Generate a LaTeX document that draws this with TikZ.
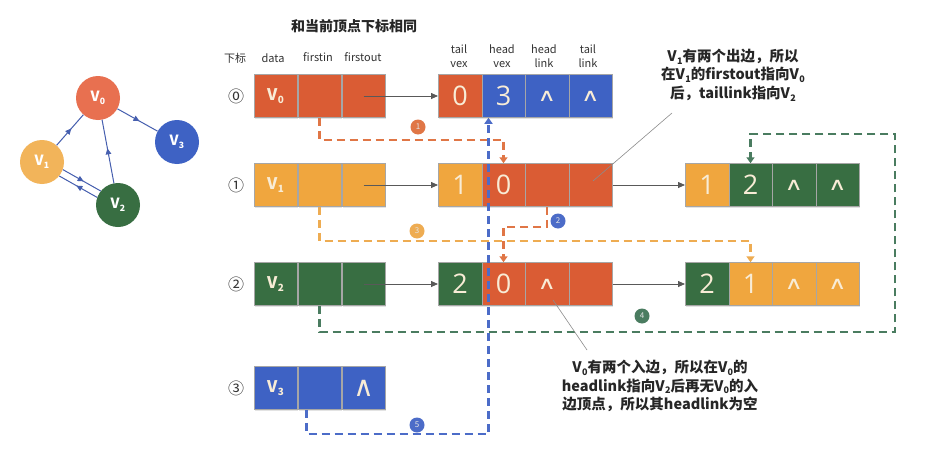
\documentclass[tikz,border=0pt]{standalone}
\usepackage{fontspec}
\usepackage{graphicx}
\setmainfont{Noto Sans CJK SC}
\newfontfamily\numfont{Open Sans}
\newfontfamily\symfont{DejaVu Sans}
\usetikzlibrary{arrows.meta,shadows,decorations.markings}

\definecolor{cred}{RGB}{218,92,52}
\definecolor{camb}{RGB}{240,166,62}
\definecolor{cgrn}{RGB}{56,110,66}
\definecolor{cblu}{RGB}{62,98,196}
\definecolor{ctxt}{RGB}{248,236,214}
\definecolor{lred}{RGB}{224,118,70}
\definecolor{lamb}{RGB}{238,172,82}
\definecolor{lgrn}{RGB}{74,124,96}
\definecolor{lblu}{RGB}{76,108,200}
\definecolor{edgeblue}{RGB}{70,95,175}
\definecolor{gred}{RGB}{232,112,80}
\definecolor{gamb}{RGB}{242,180,90}

\newcommand{\Vs}[1]{V\kern0.02em\raisebox{-0.35ex}{\scalebox{0.62}{#1}}}
\newcommand{\vtxt}[1]{{\bfseries\fontsize{16}{16}\selectfont\Vs{#1}}}
\newcommand{\numtxt}[1]{{\numfont\fontsize{27}{27}\selectfont #1}}
\newcommand{\nul}{{\symfont\fontsize{22}{22}\selectfont\scalebox{1.15}[0.8]{∧}}}

\begin{document}
\begin{tikzpicture}[x=1pt,y=-1pt,
  cell/.style={rectangle, minimum width=43.5pt, minimum height=43pt, inner sep=0pt,
     draw=black!35, line width=0.5pt, text=ctxt,
     drop shadow={opacity=0.22, shadow xshift=1.2pt, shadow yshift=-1.5pt}},
  gv/.style={circle, minimum size=44pt, inner sep=0pt, text=white,
     font=\bfseries\fontsize{14}{14}\selectfont},
  garr/.style={draw=edgeblue, line width=1pt,
     postaction={decorate, decoration={markings, mark=at position 0.55 with {\arrow{Triangle[length=6pt,width=5.5pt]}}}}},
  hdr/.style={font=\fontsize{11}{14.5}\selectfont, align=center, text=black!80},
  idx/.style={font=\fontsize{16}{16}\selectfont, text=black!80},
  solidarr/.style={draw=black!65, line width=0.8pt, -{Triangle[length=7pt,width=6pt]}},
  dsh/.style={line width=2.4pt, dash pattern=on 8pt off 5pt, -{Triangle[length=6pt,width=8pt]}},
  badge/.style={circle, minimum size=15pt, inner sep=0pt, text=white!90!black, font=\fontsize{8}{8}\selectfont},
  anno/.style={align=center, font=\bfseries\fontsize{14.5}{18.5}\selectfont, text=black!85},
  leader/.style={draw=black!45, line width=0.6pt}
]
\useasboundingbox (0,0) rectangle (935,455);
\fill[white] (0,0) rectangle (935,455);

% ---------- left graph ----------
\node[gv, fill=gred] (G0) at (98,98) {\Vs{0}};
\node[gv, fill=gamb] (G1) at (42,162) {\Vs{1}};
\node[gv, fill=cgrn] (G2) at (118,205) {\Vs{2}};
\node[gv, fill=cblu] (G3) at (177,142) {\Vs{3}};
\draw[garr] (G1) -- (G0);
\draw[garr] (G0) -- (G3);
\draw[garr] (G2) -- (G0);
\draw[garr] (G1.-20) -- (G2.141);
\draw[garr] (G2.160) -- (G1.-39);

% ---------- headers ----------
\node[font=\bfseries\fontsize{14}{14}\selectfont, text=black!85] (title) at (354,26) {和当前顶点下标相同};
\node[hdr] (h0) at (235,58) {下标};
\node[hdr] (h1) at (273,58) {data};
\node[hdr] (h2) at (318,57) {firstin};
\node[hdr] (h3) at (363,57) {firstout};
\node[hdr] (h4) at (459,56) {tail\\vex};
\node[hdr] (h5) at (502,56) {head\\vex};
\node[hdr] (h6) at (544,56) {head\\link};
\node[hdr] (h7) at (588,56) {tail\\link};

% ---------- index labels ----------
\node[idx] (i0) at (236,96) {⓪};
\node[idx] (i1) at (236,185) {①};
\node[idx] (i2) at (236,284) {②};
\node[idx] (i3) at (236,388) {③};

% ---------- row 0 ----------
\node[cell,fill=cred] (v0d) at (275.5,96) {\vtxt{0}};
\node[cell,fill=cred] (v0i) at (319.5,96) {};
\node[cell,fill=cred] (v0o) at (363.5,96) {};
\node[cell,fill=cred] (e0t) at (460,96) {\numtxt{0}};
\node[cell,fill=cblu] (e0h) at (503.5,96) {\numtxt{3}};
\node[cell,fill=cblu] (e0hl) at (547,96) {\nul};
\node[cell,fill=cblu] (e0tl) at (590.5,96) {\nul};

% ---------- row 1 ----------
\node[cell,fill=camb] (v1d) at (275.5,185) {\vtxt{1}};
\node[cell,fill=camb] (v1i) at (319.5,185) {};
\node[cell,fill=camb] (v1o) at (363.5,185) {};
\node[cell,fill=camb] (e1t) at (460,185) {\numtxt{1}};
\node[cell,fill=cred] (e1h) at (503.5,185) {\numtxt{0}};
\node[cell,fill=cred] (e1hl) at (547,185) {};
\node[cell,fill=cred] (e1tl) at (590.5,185) {};
\node[cell,fill=camb] (r1t) at (707,185) {\numtxt{1}};
\node[cell,fill=cgrn] (r1h) at (750.5,185) {\numtxt{2}};
\node[cell,fill=cgrn] (r1hl) at (794,185) {\nul};
\node[cell,fill=cgrn] (r1tl) at (837.5,185) {\nul};

% ---------- row 2 ----------
\node[cell,fill=cgrn] (v2d) at (275.5,284) {\vtxt{2}};
\node[cell,fill=cgrn] (v2i) at (319.5,284) {};
\node[cell,fill=cgrn] (v2o) at (363.5,284) {};
\node[cell,fill=cgrn] (e2t) at (460,284) {\numtxt{2}};
\node[cell,fill=cred] (e2h) at (503.5,284) {\numtxt{0}};
\node[cell,fill=cred] (e2hl) at (547,284) {\nul};
\node[cell,fill=cred] (e2tl) at (590.5,284) {};
\node[cell,fill=cgrn] (r2t) at (707,284) {\numtxt{2}};
\node[cell,fill=camb] (r2h) at (750.5,284) {\numtxt{1}};
\node[cell,fill=camb] (r2hl) at (794,284) {\nul};
\node[cell,fill=camb] (r2tl) at (837.5,284) {\nul};

% ---------- row 3 ----------
\node[cell,fill=cblu] (v3d) at (275.5,388) {\vtxt{3}};
\node[cell,fill=cblu] (v3i) at (319.5,388) {};
\node[cell,fill=cblu] (v3o) at (363.5,388) {{\symfont\fontsize{28}{28}\selectfont ∧}};

% ---------- solid arrows ----------
\draw[solidarr] (v0o.center) -- (e0t.west);
\draw[solidarr] (v1o.center) -- (e1t.west);
\draw[solidarr] (v2o.center) -- (e2t.west);
\draw[solidarr] (e1tl.east) -- (r1t.west);
\draw[solidarr] (e2tl.east) -- (r2t.west);

% ---------- dashed connectors ----------
\coordinate (c4) at (895,134);
\draw[dsh, draw=lred] (v0i.south) -- ++(0,22) -| (e1h.north);
\draw[dsh, draw=lred] (e1hl.south) -- ++(0,20) -| (e2h.north);
\draw[dsh, draw=lamb] (v1i.south) -- ++(0,34) -| (r2h.north);
\draw[dsh, draw=lgrn] (v2i.south) -- ++(0,26) -| (c4) -| (r1h.north);
\draw[dsh, draw=lblu] ([xshift=-13pt]v3i.south) -- ++(0,24) -| ([xshift=-15pt]e0h.south);

% ---------- badges ----------
\node[badge, fill=lred] (b1) at (418,127) {1};
\node[badge, fill=lblu] (b2) at (558,221) {2};
\node[badge, fill=lamb] (b3) at (417,231) {3};
\node[badge, fill=lgrn] (b4) at (642,316) {4};
\node[badge, fill=lblu] (b5) at (417,425) {5};

% ---------- annotations ----------
\node[anno] (n1) at (733,75) {\Vs{1}有两个出边，所以\\在\Vs{1}的firstout指向\Vs{0}\\后，taillink指向\Vs{2}};
\node[anno] (n2) at (660,386) {\Vs{0}有两个入边，所以在\Vs{0}的\\headlink指向\Vs{2}后再无\Vs{0}的入\\边顶点，所以其headlink为空};
\coordinate (l1a) at (672,113);
\coordinate (l1b) at (593,181);
\coordinate (l2a) at (553,300);
\coordinate (l2b) at (587,350);
\draw[leader] (l1a) -- (l1b);
\draw[leader] (l2a) -- (l2b);
\end{tikzpicture}
\end{document}
